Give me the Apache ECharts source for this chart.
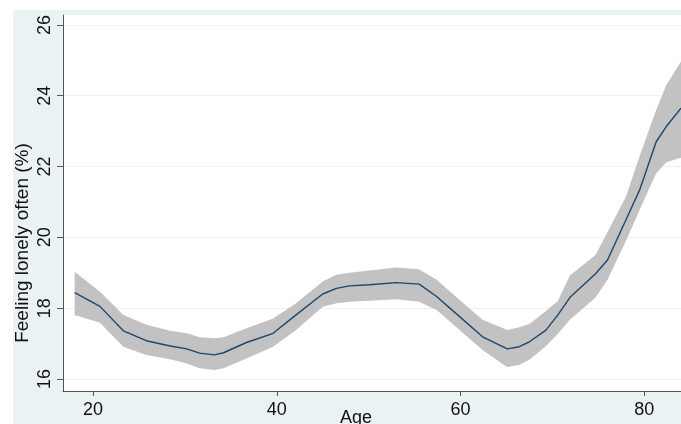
<!DOCTYPE html>
<html>
<head>
<meta charset="utf-8">
<script src="https://cdn.jsdelivr.net/npm/echarts@6/dist/echarts.min.js"></script>
<style>
  html, body { margin: 0; padding: 0; background: #fff; }
  #wrap { position: relative; width: 681px; height: 424px; background: #fff; overflow: hidden; }
  #region { position: absolute; left: 13px; top: 10px; right: 0; bottom: 0; background: #eaf2f3; }
  #chart { position: absolute; left: 0; top: 0; width: 681px; height: 424px; }
</style>
</head>
<body>
<div id="wrap">
  <div id="region"></div>
  <div id="chart"></div>
</div>
<script>
// age grid of the smoothed curve
var ages = [18.0, 20.75, 23.3, 25.8, 28.4, 30.2, 31.6, 33.2, 34.2, 36.7, 39.6, 42.1, 45.0, 46.5, 47.9, 50.1,
            53.0, 55.5, 57.4, 59.9, 62.4, 65.1, 66.4, 67.5, 69.3, 70.6, 71.9, 74.7, 76.0, 78.0, 79.5, 81.3, 82.4, 84.0];
// feeling lonely often (%)
var lonely = [18.44, 18.05, 17.36, 17.08, 16.93, 16.85, 16.73, 16.68, 16.74, 17.03, 17.29, 17.81, 18.40, 18.56, 18.63, 18.66,
              18.72, 18.68, 18.33, 17.76, 17.19, 16.85, 16.91, 17.05, 17.38, 17.81, 18.30, 18.97, 19.36, 20.49, 21.34, 22.70, 23.13, 23.65];
// 95% CI bounds
var ciLow = [17.81, 17.59, 16.91, 16.68, 16.56, 16.44, 16.30, 16.25, 16.30, 16.58, 16.91, 17.38, 18.04, 18.14, 18.18, 18.21,
             18.25, 18.18, 17.95, 17.38, 16.82, 16.33, 16.40, 16.54, 16.93, 17.28, 17.67, 18.30, 18.80, 19.90, 20.78, 21.81, 22.12, 22.25];
var ciHigh = [19.03, 18.46, 17.81, 17.53, 17.36, 17.29, 17.18, 17.15, 17.18, 17.43, 17.71, 18.14, 18.75, 18.94, 19.00, 19.06,
              19.15, 19.10, 18.80, 18.23, 17.67, 17.38, 17.46, 17.55, 17.92, 18.20, 18.92, 19.50, 20.15, 21.15, 22.30, 23.60, 24.30, 24.97];
var xTicks = [20, 40, 60, 80];
var yTicks = [16, 18, 20, 22, 24, 26];

var chart = echarts.init(document.getElementById('chart'));

var linePts = ages.map(function (a, i) { return [a, lonely[i]]; });

var font = 'Liberation Sans, Arial, sans-serif';

// confidence band as one polygon, placed through the axes
function renderBand(params, api) {
  var pts = [];
  for (var i = 0; i < ages.length; i++) pts.push(api.coord([ages[i], ciHigh[i]]));
  for (var j = ages.length - 1; j >= 0; j--) pts.push(api.coord([ages[j], ciLow[j]]));
  return {
    type: 'polygon',
    shape: { points: pts },
    style: { fill: '#c2c2c2', stroke: null }
  };
}

var option = {
  backgroundColor: 'transparent',
  animation: false,
  grid: {
    left: 63, top: 15, right: 0, bottom: 33,
    show: true, backgroundColor: '#fff', borderWidth: 0
  },
  xAxis: {
    type: 'value', min: 16.73, max: 84,
    axisLine: { show: true, lineStyle: { color: '#555', width: 1 } },
    axisTick: { show: true, length: 5, customValues: xTicks, lineStyle: { color: '#555' } },
    axisLabel: { customValues: xTicks, margin: 10, color: '#111', fontSize: 18, fontFamily: font },
    splitLine: { show: false }
  },
  yAxis: {
    type: 'value', min: 15.66, max: 26.28,
    axisLine: { show: true, lineStyle: { color: '#555', width: 1 } },
    axisTick: { show: true, length: 6, customValues: yTicks, lineStyle: { color: '#555' } },
    axisLabel: { customValues: yTicks, rotate: 90, margin: 9, color: '#111', fontSize: 18, fontFamily: font },
    splitLine: { show: true, lineStyle: { color: '#eaf2f3', width: 1 } }
  },
  graphic: [
    {
      type: 'text', x: 23, y: 243, rotation: Math.PI / 2,
      style: { text: 'Feeling lonely often (%)', fill: '#111', font: '19px ' + font, align: 'center', verticalAlign: 'middle' }
    },
    {
      type: 'text', x: 356, y: 409,
      style: { text: 'Age', fill: '#111', font: '18px ' + font, align: 'center', verticalAlign: 'top' }
    }
  ],
  series: [
    {
      type: 'custom', renderItem: renderBand, data: [0], clip: true, silent: true, z: 2
    },
    {
      type: 'line', data: linePts, symbol: 'none', z: 5,
      lineStyle: { color: '#1a476f', width: 1.4 }
    }
  ]
};
chart.setOption(option);
</script>
</body>
</html>
